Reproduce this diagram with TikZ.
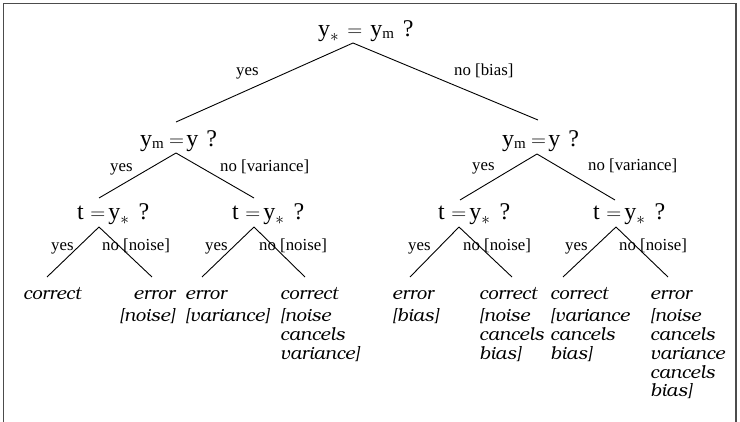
\documentclass[tikz,border=0pt]{standalone}
\usepackage[T1]{fontenc}
\usepackage{fontspec}
\newfontfamily\tms{Liberation Serif}
\newcommand\leaffont{\fontencoding{T1}\fontfamily{pbk}\fontseries{l}\fontshape{it}\fontsize{18.2}{18.75}\selectfont}
\newcommand\qsub[1]{\raisebox{-2pt}{\fontsize{15}{15}\selectfont #1}}
\newcommand\qast{\raisebox{-4.5pt}{\fontsize{17}{17}\selectfont$\ast$}}
\newcommand\qeq{{\fontsize{21.5}{22}\selectfont$=$}}
\begin{document}
\begin{tikzpicture}[x=1pt,y=-1pt,
  q/.style={inner sep=0pt, anchor=base west, font=\tms\fontsize{24}{26}\selectfont},
  lab/.style={inner sep=0pt, anchor=base west, font=\tms\fontsize{16.8}{18}\selectfont},
  leaf/.style={inner sep=0pt, anchor=base west, text width=95pt, align=left, font=\leaffont},
  edge/.style={draw=black, line width=0.9pt},
  framec/.style={draw=black!70, line width=1.3pt}]
\useasboundingbox (0,0) rectangle (740,422);
\draw[framec] (3.5,422) -- (3.5,3.5) -- (736,3.5) -- (736,422);
% questions
\node[q] (r) at (318,37) {y\qast\hspace{8.5pt}\qeq\hspace{8pt}y\qsub{m}\hspace{9pt}?};
\node[q] (a) at (140,146.5) {y\qsub{m}\hspace{5.3pt}\qeq\hspace{2.3pt}y\hspace{8pt}?};
\node[q] (b) at (502,146.5) {y\qsub{m}\hspace{5.3pt}\qeq\hspace{2.3pt}y\hspace{8pt}?};
\node[q] (a1) at (77,220) {t\hspace{6.6pt}\qeq\hspace{3pt}y\qast\hspace{9.5pt}?};
\node[q] (a2) at (232,220) {t\hspace{6.6pt}\qeq\hspace{3pt}y\qast\hspace{9.5pt}?};
\node[q] (b1) at (438,220) {t\hspace{6.6pt}\qeq\hspace{3pt}y\qast\hspace{9.5pt}?};
\node[q] (b2) at (593,220) {t\hspace{6.6pt}\qeq\hspace{3pt}y\qast\hspace{9.5pt}?};
% connector points
\coordinate (r-s) at (353,43);
\coordinate (a-n) at (176,122);
\coordinate (b-n) at (538,120);
\coordinate (a-s) at (176,153);
\coordinate (b-s) at (537,154);
\coordinate (a1-n) at (99,198);
\coordinate (a2-n) at (254,198);
\coordinate (b1-n) at (460,200);
\coordinate (b2-n) at (615,200);
\coordinate (a1-s) at (99,227);
\coordinate (a2-s) at (254,227);
\coordinate (b1-s) at (459,227);
\coordinate (b2-s) at (616,227);
% leaves
\node[leaf] (l1) at (23,300) {correct};
\node[leaf, text width=60pt, align=right, anchor=base east] (l2) at (175,300) {error\\[3.25pt][noise]};
\node[leaf] (l3) at (185,300) {error\\[3.25pt][variance]};
\node[leaf] (l4) at (280,300) {correct\\[3.25pt][noise\\cancels\\variance]};
\node[leaf] (l5) at (392,300) {error\\[3.25pt][bias]};
\node[leaf] (l6) at (479,300) {correct\\[3.25pt][noise\\cancels\\bias]};
\node[leaf] (l7) at (550,300) {correct\\[3.25pt][variance\\cancels\\bias]};
\node[leaf, text width=85pt] (l8) at (650,300) {error\\[3.25pt][noise\\cancels\\variance\\cancels\\bias]};
\coordinate (l1-n) at (47,277);
\coordinate (l2-n) at (152,277);
\coordinate (l3-n) at (202,277);
\coordinate (l4-n) at (305,277);
\coordinate (l5-n) at (410,277);
\coordinate (l6-n) at (512,277);
\coordinate (l7-n) at (563,277);
\coordinate (l8-n) at (668,277);
% edges
\draw[edge] (r-s) -- (a-n); \draw[edge] (r-s) -- (b-n);
\draw[edge] (a-s) -- (a1-n); \draw[edge] (a-s) -- (a2-n);
\draw[edge] (b-s) -- (b1-n); \draw[edge] (b-s) -- (b2-n);
\draw[edge] (a1-s) -- (l1-n); \draw[edge] (a1-s) -- (l2-n);
\draw[edge] (a2-s) -- (l3-n); \draw[edge] (a2-s) -- (l4-n);
\draw[edge] (b1-s) -- (l5-n); \draw[edge] (b1-s) -- (l6-n);
\draw[edge] (b2-s) -- (l7-n); \draw[edge] (b2-s) -- (l8-n);
% edge labels
\node[lab] (e1) at (236,76) {yes};
\node[lab] (e2) at (454,76) {no [bias]};
\node[lab] (e3) at (110,172) {yes};
\node[lab] (e4) at (220,172) {no [variance]};
\node[lab] (e5) at (472,171) {yes};
\node[lab] (e6) at (588,171) {no [variance]};
\node[lab] (e7) at (51,251) {yes};
\node[lab] (e8) at (102,251) {no [noise]};
\node[lab] (e9) at (205,251) {yes};
\node[lab] (e10) at (259,251) {no [noise]};
\node[lab] (e11) at (408,251) {yes};
\node[lab] (e12) at (463,251) {no [noise]};
\node[lab] (e13) at (565,251) {yes};
\node[lab] (e14) at (619,251) {no [noise]};
\end{tikzpicture}
\end{document}
